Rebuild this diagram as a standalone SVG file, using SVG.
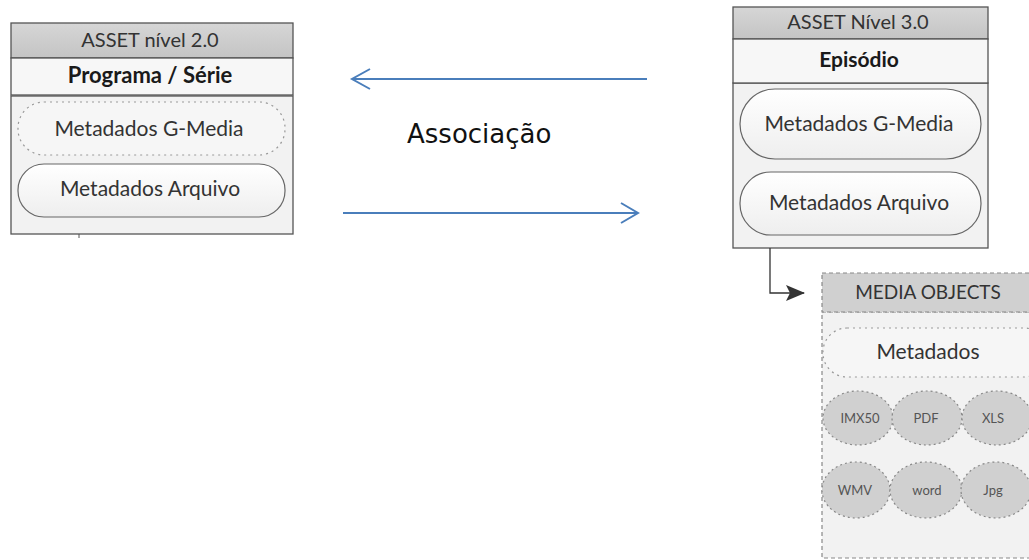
<svg xmlns="http://www.w3.org/2000/svg" width="1029" height="560" viewBox="0 0 1029 560">
<defs>
<style>
.t{font-family:Lato,"Liberation Sans",sans-serif;fill:#333;text-anchor:middle}
.b{font-weight:bold;fill:#1a1a1a}
.hdr{fill:url(#gh);stroke:#555;stroke-width:1.3}
.ttl{fill:#f7f7f7;stroke:#555;stroke-width:1.3}
.body{fill:#f2f2f2;stroke:#555;stroke-width:1.3}
.pill{fill:url(#gp);stroke:#666;stroke-width:1.2}
.dpill{fill:#f6f6f6;stroke:#999;stroke-width:1.2;stroke-dasharray:2 4}
.ell{fill:#d0d0d0;stroke:#888;stroke-width:1.2;stroke-dasharray:2 3}
.s{font-size:13px;fill:#555}
.blue{stroke:#4a7ebb;stroke-width:2;fill:none}
</style>
<linearGradient id="gh" x1="0" y1="0" x2="0" y2="1"><stop offset="0" stop-color="#d6d6d6"/><stop offset="1" stop-color="#c4c4c4"/></linearGradient>
<linearGradient id="gp" x1="0" y1="0" x2="0" y2="1"><stop offset="0" stop-color="#ffffff"/><stop offset="1" stop-color="#eeeeee"/></linearGradient>
<marker id="dark" markerWidth="19" markerHeight="16" refX="18" refY="8" orient="auto" markerUnits="userSpaceOnUse"><path d="M0,0 L19,8 L0,16 L4,8 Z" fill="#333"/></marker>
</defs>

<g id="asset20">
<rect x="11" y="96" width="282" height="138" class="body"/>
<rect x="11" y="23" width="282" height="35" class="hdr"/>
<rect x="11" y="58" width="282" height="37" class="ttl"/>
<text x="150" y="47" class="t" font-size="20">ASSET nível 2.0</text>
<text x="150" y="83" class="t b" font-size="22">Programa / Série</text>
<rect x="18" y="102" width="267" height="53" rx="26" class="dpill"/>
<text x="149" y="136" class="t" font-size="21">Metadados G-Media</text>
<rect x="18" y="164" width="267" height="53" rx="26" class="pill"/>
<text x="150" y="196" class="t" font-size="21">Metadados Arquivo</text>
<line x1="79" y1="234" x2="79" y2="238" stroke="#555" stroke-width="1"/>
</g>

<g id="asset30">
<rect x="733" y="83" width="255" height="165" class="body"/>
<rect x="733" y="7" width="255" height="32" class="hdr"/>
<rect x="733" y="39" width="255" height="44" class="ttl"/>
<text x="858" y="29" class="t" font-size="20">ASSET Nível 3.0</text>
<text x="859" y="67" class="t b" font-size="21">Episódio</text>
<rect x="740" y="89" width="241" height="70" rx="35" class="pill"/>
<text x="859" y="131" class="t" font-size="21">Metadados G-Media</text>
<rect x="740" y="172" width="241" height="63" rx="31" class="pill"/>
<text x="859" y="210" class="t" font-size="21">Metadados Arquivo</text>
</g>

<g id="media">
<rect x="822" y="312" width="230" height="246" fill="#f2f2f2" stroke="#888" stroke-width="1.2" stroke-dasharray="4 3"/>
<rect x="822" y="273" width="230" height="39" fill="#d0d0d0" stroke="#888" stroke-width="1.2" stroke-dasharray="4 3"/>
<text x="928" y="299" class="t" font-size="19">MEDIA OBJECTS</text>
<rect x="823" y="328" width="225" height="49" rx="24" class="dpill"/>
<text x="928" y="359" class="t" font-size="21">Metadados</text>
<ellipse cx="858" cy="418" rx="35" ry="27" class="ell"/>
<ellipse cx="927" cy="418" rx="35" ry="27" class="ell"/>
<ellipse cx="997" cy="418" rx="35" ry="27" class="ell"/>
<ellipse cx="856" cy="490" rx="34" ry="28" class="ell"/>
<ellipse cx="926" cy="490" rx="36" ry="28" class="ell"/>
<ellipse cx="996" cy="490" rx="35" ry="28" class="ell"/>
<text x="860" y="423" class="t s">IMX50</text>
<text x="926" y="423" class="t s">PDF</text>
<text x="993" y="423" class="t s">XLS</text>
<text x="855" y="495" class="t s">WMV</text>
<text x="927" y="495" class="t s">word</text>
<text x="993" y="495" class="t s">Jpg</text>
</g>

<g id="connectors">
<line x1="647" y1="79" x2="352" y2="79" class="blue"/>
<polyline points="370,69 352,79 370,89" class="blue"/>
<line x1="343" y1="213" x2="638" y2="213" class="blue"/>
<polyline points="621,203 638,213 621,223" class="blue"/>
<polyline points="770,248 770,293 804,293" fill="none" stroke="#333" stroke-width="1.3" marker-end="url(#dark)"/>
</g>

<text x="407" y="143" font-family="'DejaVu Sans',Verdana,sans-serif" font-size="26" fill="#111">Associação</text>
</svg>
